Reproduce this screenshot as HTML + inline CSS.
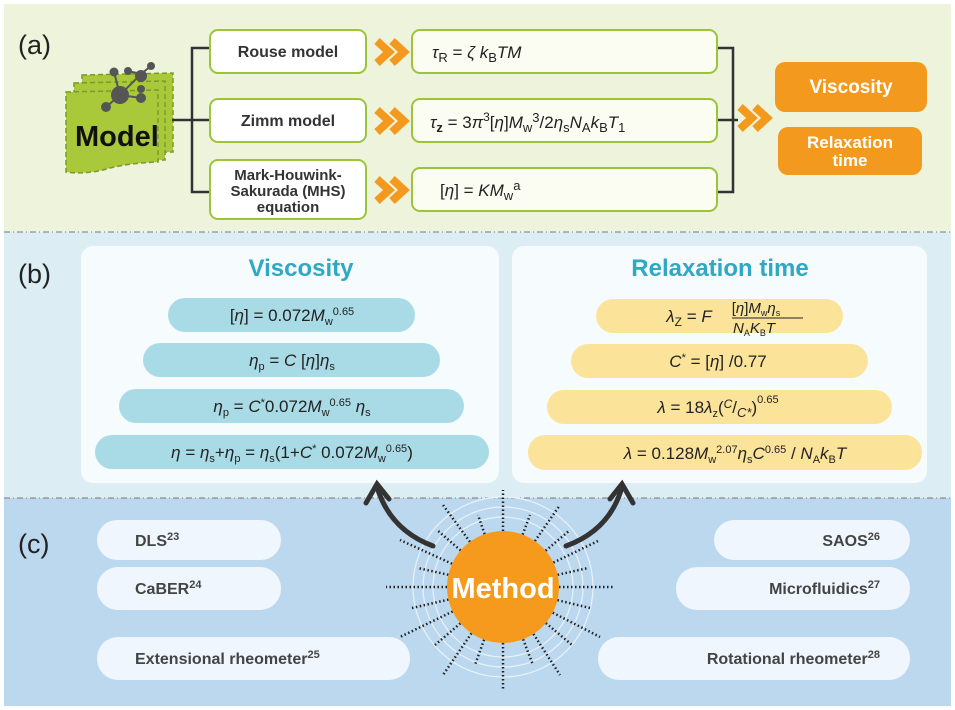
<!DOCTYPE html>
<html><head><meta charset="utf-8"><style>
html,body{margin:0;padding:0;background:#fff}
svg{display:block}
text{font-family:"Liberation Sans",sans-serif}
.b{font-weight:bold}
.m{font-style:italic;font-size:17px;fill:#222}
</style></head><body>
<svg width="955" height="710" viewBox="0 0 955 710" xmlns="http://www.w3.org/2000/svg">
<rect x="4" y="4" width="947" height="228" fill="#eef3dc"/>
<rect x="4" y="232" width="947" height="266" fill="#dcedf3"/>
<rect x="4" y="498" width="947" height="208" fill="#bcd8ef"/>
<line x1="4" y1="232" x2="951" y2="232" stroke="#777" stroke-dasharray="6,3,1,3"/>
<line x1="4" y1="498" x2="951" y2="498" stroke="#777" stroke-dasharray="6,3,1,3"/>

<text x="18" y="54" font-size="27" fill="#222">(a)</text>
<text x="18" y="283" font-size="27" fill="#222">(b)</text>
<text x="18" y="553" font-size="27" fill="#222">(c)</text>

<!-- Model icon -->
<g stroke="#7a9a2a" stroke-dasharray="5,3" stroke-width="1.5" fill="#a9c93a">
<path d="M82 75 L173 73 L173 152 L82 154 Z"/>
<path d="M74 83 L165 81 L165 160 L74 162 Z"/>
<path d="M66 92 L158 90 L158 162 Q130 163 110 168 Q88 175 66 172 Z"/>
</g>
<g stroke="#555" stroke-width="2" fill="#555">
<line x1="114" y1="72" x2="120" y2="95"/><line x1="120" y1="95" x2="141" y2="74"/><line x1="120" y1="95" x2="106" y2="107"/><line x1="120" y1="95" x2="141" y2="98"/><line x1="141" y1="74" x2="151" y2="66"/><line x1="128" y1="71" x2="141" y2="74"/>
<circle cx="120" cy="95" r="8"/><circle cx="141" cy="76" r="5"/><circle cx="114" cy="72" r="3.5"/><circle cx="128" cy="71" r="3"/><circle cx="151" cy="66" r="3"/><circle cx="106" cy="107" r="4"/><circle cx="141" cy="98" r="4"/><circle cx="141" cy="89" r="3"/>
</g>
<text x="75" y="146" font-size="29" class="b" fill="#111">Model</text>

<g stroke="#333" stroke-width="2.5" fill="none">
<path d="M210 48 H192 V192 H210"/><line x1="172" y1="120" x2="210" y2="120"/>
<path d="M717 48 H733 V192 H717"/><line x1="717" y1="120" x2="738" y2="120"/>
</g>
<g fill="#fff" stroke="#9cc43a" stroke-width="2">
<rect x="210" y="30" width="156" height="43" rx="8"/>
<rect x="210" y="99" width="156" height="43" rx="8"/>
<rect x="210" y="160" width="156" height="59" rx="8"/>
<rect x="412" y="30" width="305" height="43" rx="8" fill="#fbfdf3"/>
<rect x="412" y="99" width="305" height="43" rx="8" fill="#fbfdf3"/>
<rect x="412" y="168" width="305" height="43" rx="8" fill="#fbfdf3"/>
</g>
<g class="b" font-size="16" fill="#333" text-anchor="middle">
<text x="288" y="57">Rouse model</text>
<text x="288" y="126">Zimm model</text>
<text x="288" y="180" font-size="15">Mark-Houwink-</text>
<text x="288" y="196" font-size="15">Sakurada (MHS)</text>
<text x="288" y="212" font-size="15">equation</text>
</g>
<g fill="none" stroke="#f39a1e" stroke-width="8" stroke-linejoin="miter" stroke-linecap="butt">
<path d="M377 41 L389 52 L377 63 M392 41 L404 52 L392 63"/>
<path d="M377 110 L389 121 L377 132 M392 110 L404 121 L392 132"/>
<path d="M377 179 L389 190 L377 201 M392 179 L404 190 L392 201"/>
<path d="M740 107 L752 118 L740 129 M755 107 L767 118 L755 129"/>
</g>
<text x="432" y="58" class="m" font-size="20">τ<tspan font-size="13" dy="4" font-style="normal">R</tspan><tspan dy="-4" font-style="normal"> = </tspan>ζ k<tspan font-size="13" dy="4" font-style="normal">B</tspan><tspan dy="-4">TM</tspan></text>
<text x="430" y="128" class="m" font-size="20">τ<tspan font-size="13" dy="4" class="b" font-style="normal">z</tspan><tspan dy="-4" font-style="normal"> = 3</tspan>π<tspan font-size="12" dy="-7" font-style="normal">3</tspan><tspan dy="7" font-style="normal">[</tspan>η<tspan font-style="normal">]</tspan>M<tspan font-size="13" dy="4" font-style="normal">w</tspan><tspan font-size="13" dy="-10" font-style="normal">3</tspan><tspan dy="6" font-style="normal">/2</tspan>η<tspan font-size="13" dy="4" font-style="normal">s</tspan><tspan dy="-4">N</tspan><tspan font-size="13" dy="4" font-style="normal">A</tspan><tspan dy="-4">k</tspan><tspan font-size="13" dy="4" font-style="normal">B</tspan><tspan dy="-4">T</tspan><tspan font-size="13" dy="4" font-style="normal">1</tspan></text>
<text x="440" y="196" class="m" font-size="20"><tspan font-style="normal">[</tspan>η<tspan font-style="normal">] = </tspan>KM<tspan font-size="13" dy="4" font-style="normal">w</tspan><tspan font-size="13" dy="-10" font-style="normal">a</tspan></text>
<rect x="775" y="62" width="152" height="50" rx="10" fill="#f39a1e"/>
<rect x="778" y="127" width="144" height="48" rx="10" fill="#f39a1e"/>
<g class="b" fill="#fff" text-anchor="middle">
<text x="851" y="93" font-size="19">Viscosity</text>
<text x="850" y="148" font-size="17">Relaxation</text>
<text x="850" y="166" font-size="17">time</text>
</g>

<rect x="81" y="246" width="418" height="237" rx="12" fill="#f6fbfd"/>
<rect x="512" y="246" width="415" height="237" rx="12" fill="#f6fbfd"/>
<text x="301" y="276" font-size="24" class="b" fill="#2fa8c4" text-anchor="middle">Viscosity</text>
<text x="720" y="276" font-size="24" class="b" fill="#2fa8c4" text-anchor="middle">Relaxation time</text>
<g fill="#a9dbe6">
<rect x="168" y="298" width="247" height="34" rx="17"/>
<rect x="143" y="343" width="297" height="34" rx="17"/>
<rect x="119" y="389" width="345" height="34" rx="17"/>
<rect x="95" y="435" width="394" height="34" rx="17"/>
</g>
<g fill="#fbe49a">
<rect x="596" y="299" width="247" height="34" rx="17"/>
<rect x="571" y="344" width="297" height="34" rx="17"/>
<rect x="547" y="390" width="345" height="34" rx="17"/>
<rect x="528" y="435" width="394" height="35" rx="17"/>
</g>
<g class="m" text-anchor="middle">
<text x="292" y="321"><tspan font-style="normal">[</tspan>η<tspan font-style="normal">] = 0.072</tspan>M<tspan font-size="11" dy="4" font-style="normal">w</tspan><tspan font-size="11" dy="-10" font-style="normal">0.65</tspan></text>
<text x="292" y="366">η<tspan font-size="11" dy="4" font-style="normal">p</tspan><tspan dy="-4" font-style="normal"> = </tspan>C<tspan font-style="normal"> [</tspan>η<tspan font-style="normal">]</tspan>η<tspan font-size="11" dy="4" font-style="normal">s</tspan></text>
<text x="292" y="412">η<tspan font-size="11" dy="4" font-style="normal">p</tspan><tspan dy="-4" font-style="normal"> = </tspan>C<tspan font-size="11" dy="-6" font-style="normal">*</tspan><tspan dy="6" font-style="normal">0.072</tspan>M<tspan font-size="11" dy="4" font-style="normal">w</tspan><tspan font-size="11" dy="-10" font-style="normal">0.65</tspan><tspan dy="6"> η</tspan><tspan font-size="11" dy="4" font-style="normal">s</tspan></text>
<text x="292" y="458">η<tspan font-style="normal"> = </tspan>η<tspan font-size="11" dy="4" font-style="normal">s</tspan><tspan dy="-4" font-style="normal">+</tspan>η<tspan font-size="11" dy="4" font-style="normal">p</tspan><tspan dy="-4" font-style="normal"> = </tspan>η<tspan font-size="11" dy="4" font-style="normal">s</tspan><tspan dy="-4" font-style="normal">(1+</tspan>C<tspan font-size="11" dy="-6" font-style="normal">*</tspan><tspan dy="6" font-style="normal"> 0.072</tspan>M<tspan font-size="11" dy="4" font-style="normal">w</tspan><tspan font-size="11" dy="-10" font-style="normal">0.65</tspan><tspan dy="6" font-style="normal">)</tspan></text>

<text x="689" y="322">λ<tspan font-size="12" dy="4" font-style="normal">Z</tspan><tspan dy="-4" font-style="normal"> = </tspan>F</text>
<text x="756" y="313" font-size="15"><tspan font-style="normal">[</tspan>η<tspan font-style="normal">]</tspan>M<tspan font-size="9" dy="3" font-style="normal">w</tspan><tspan dy="-3">η</tspan><tspan font-size="9" dy="3" font-style="normal">s</tspan></text>
<text x="754" y="333" font-size="15">N<tspan font-size="9" dy="3" font-style="normal">A</tspan><tspan dy="-3">K</tspan><tspan font-size="9" dy="3" font-style="normal">B</tspan><tspan dy="-3">T</tspan></text>
<text x="718" y="367">C<tspan font-size="11" dy="-6" font-style="normal">*</tspan><tspan dy="6" font-style="normal"> = [</tspan>η<tspan font-style="normal">] /0.77</tspan></text>
<text x="718" y="413" font-family="Liberation Serif">λ<tspan font-style="normal"> = 18</tspan>λ<tspan font-size="11" dy="4" font-style="normal">z</tspan><tspan dy="-4" font-style="normal">(</tspan><tspan font-size="12" dy="-5">C</tspan><tspan dy="5" font-style="normal">/</tspan><tspan font-size="13" dy="4">C*</tspan><tspan dy="-4" font-style="normal">)</tspan><tspan font-size="11" dy="-10" font-style="normal">0.65</tspan></text>
<text x="735" y="459">λ<tspan font-style="normal"> = 0.128</tspan>M<tspan font-size="11" dy="4" font-style="normal">w</tspan><tspan font-size="11" dy="-10" font-style="normal">2.07</tspan><tspan dy="6">η</tspan><tspan font-size="11" dy="4" font-style="normal">s</tspan><tspan dy="-4">C</tspan><tspan font-size="11" dy="-6" font-style="normal">0.65</tspan><tspan dy="6" font-style="normal"> / </tspan>N<tspan font-size="11" dy="4" font-style="normal">A</tspan><tspan dy="-4">k</tspan><tspan font-size="11" dy="4" font-style="normal">B</tspan><tspan dy="-4">T</tspan></text>
</g>
<line x1="732" y1="318" x2="803" y2="318" stroke="#222" stroke-width="1"/>

<g fill="#eff6fd">
<rect x="97" y="520" width="184" height="40" rx="20"/>
<rect x="97" y="567" width="184" height="43" rx="21"/>
<rect x="97" y="637" width="313" height="43" rx="21"/>
<rect x="714" y="520" width="196" height="40" rx="20"/>
<rect x="676" y="567" width="234" height="43" rx="21"/>
<rect x="598" y="637" width="312" height="43" rx="21"/>
</g>
<g class="b" font-size="16" fill="#444">
<text x="135" y="546">DLS<tspan font-size="11" dy="-6">23</tspan></text>
<text x="135" y="594">CaBER<tspan font-size="11" dy="-6">24</tspan></text>
<text x="135" y="664">Extensional rheometer<tspan font-size="11" dy="-6">25</tspan></text>
<text x="880" y="546" text-anchor="end">SAOS<tspan font-size="11" dy="-6">26</tspan></text>
<text x="880" y="594" text-anchor="end">Microfluidics<tspan font-size="11" dy="-6">27</tspan></text>
<text x="880" y="664" text-anchor="end">Rotational rheometer<tspan font-size="11" dy="-6">28</tspan></text>
</g>

<g fill="none" stroke="#e8f2fb" stroke-width="1.2">
<circle cx="503" cy="587" r="70"/><circle cx="503" cy="587" r="80"/><circle cx="503" cy="587" r="90"/>
</g>
<g stroke="#222" stroke-width="2.5" stroke-dasharray="1.5,2.5">
<line x1="503" y1="587" x2="503" y2="490"/>
<line x1="503" y1="587" x2="503" y2="690"/>
<line x1="503" y1="587" x2="386" y2="587"/>
<line x1="503" y1="587" x2="615" y2="587"/>
<line x1="503" y1="587" x2="443" y2="505"/>
<line x1="503" y1="587" x2="560" y2="505"/>
<line x1="503" y1="587" x2="443" y2="675"/>
<line x1="503" y1="587" x2="560" y2="675"/>
<line x1="503" y1="587" x2="400" y2="540"/>
<line x1="503" y1="587" x2="600" y2="540"/>
<line x1="503" y1="587" x2="400" y2="637"/>
<line x1="503" y1="587" x2="600" y2="637"/>
<line x1="503" y1="587" x2="418" y2="568"/>
<line x1="503" y1="587" x2="588" y2="568"/>
<line x1="503" y1="587" x2="412" y2="608"/>
<line x1="503" y1="587" x2="590" y2="608"/>
<line x1="503" y1="587" x2="478" y2="515"/>
<line x1="503" y1="587" x2="530" y2="515"/>
<line x1="503" y1="587" x2="475" y2="665"/>
<line x1="503" y1="587" x2="533" y2="665"/>
<line x1="503" y1="587" x2="437" y2="530"/>
<line x1="503" y1="587" x2="570" y2="530"/>
<line x1="503" y1="587" x2="435" y2="645"/>
<line x1="503" y1="587" x2="572" y2="645"/>
</g>
<circle cx="503" cy="587" r="56" fill="#f59a1c"/>
<text x="503" y="598" font-size="29" class="b" fill="#fff" text-anchor="middle">Method</text>
<g fill="none" stroke="#333" stroke-width="5" stroke-linecap="round">
<path d="M433 546 Q390 530 377 487"/>
<path d="M566 546 Q610 530 622 487"/>
<path d="M366 503 L377 484 L389 499"/>
<path d="M610 499 L622 484 L633 503"/>
</g>
</svg>
</body></html>
